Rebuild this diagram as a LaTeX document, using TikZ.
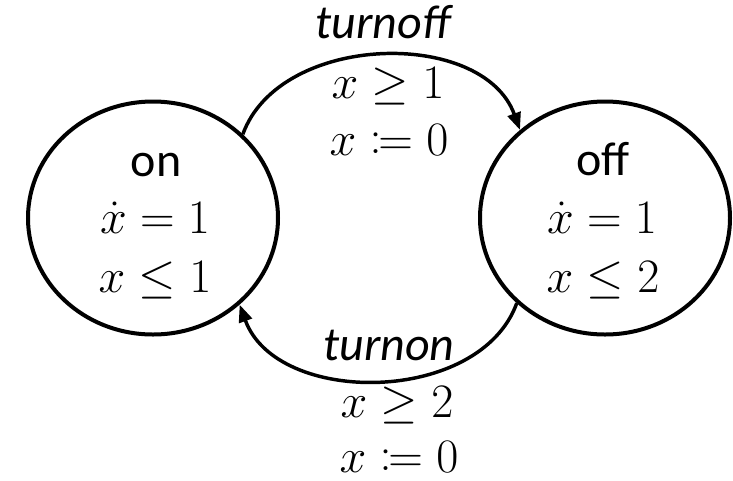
\RequirePackage{fix-cm}
\documentclass[tikz,border=0pt]{standalone}
\usepackage{fontspec}
\setsansfont{Carlito}
\usetikzlibrary{shapes.geometric, positioning, arrows.meta}
\newcommand{\assign}{\mathrel{\vcenter{\hbox{$:$}}\mkern-1.2mu{=}}}

\begin{document}
\begin{tikzpicture}[x=0.75pt, y=-0.75pt,
    loc/.style={draw, ellipse, line width=3pt, inner sep=0pt, minimum width=187.5pt, minimum height=174.75pt},
    edge/.style={-{Triangle[length=13pt, width=10pt]}, line width=2.6pt},
    txt/.style={anchor=base, inner sep=0pt, font=\fontsize{36}{43}\selectfont},
    locname/.style={txt, font=\fontsize{36}{43}\selectfont\sffamily},
    act/.style={txt, font=\fontsize{36}{43}\selectfont\sffamily\itshape}]
    \useasboundingbox (0,0) rectangle (733,480);
    % locations
    \node[loc] (on) at (153,218) {};
    \node[loc, right=148.5pt of on] (off) {};
    \node[locname] (onname) at (156,176) {on};
    \node[txt] (onflow) at (155,233) {$\dot{x} = 1$};
    \node[txt] (oninv) at (155,292) {$x \leq 1$};
    \node[locname] (offname) at (603,175) {off};
    \node[txt] (offflow) at (602,233) {$\dot{x} = 1$};
    \node[txt] (offinv) at (603,292) {$x \leq 2$};
    % transitions
    \draw[edge] (on.43) to[out=70, in=110] (off.134);
    \draw[edge] (off.224) to[out=250, in=290] (on.315);
    \node[act] (turnoff) at (383,38) {turnoff};
    \node[txt] (offguard) at (388,98) {$x \geq 1$};
    \node[txt] (offreset) at (389,155) {$x \assign 0$};
    \node[act] (turnon) at (389,360) {turnon};
    \node[txt] (onguard) at (397,417) {$x \geq 2$};
    \node[txt] (onreset) at (399,472) {$x \assign 0$};
\end{tikzpicture}
\end{document}
